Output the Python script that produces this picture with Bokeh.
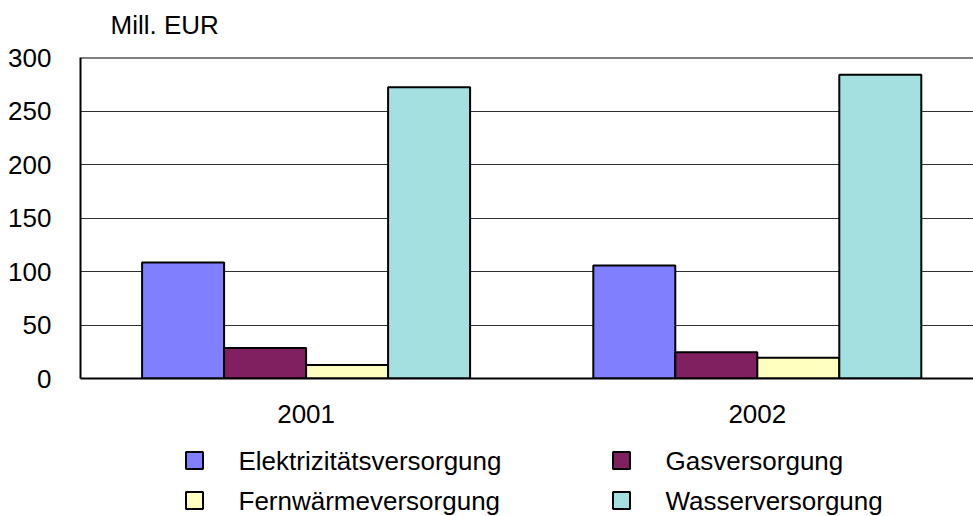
from bokeh.plotting import figure
from bokeh.layouts import column
from bokeh.models import Range1d, FixedTicker, Span
from bokeh.core.properties import value
from bokeh.embed import file_html
from bokeh.resources import INLINE

years = ["2001", "2002"]
series = ["Elektrizitätsversorgung", "Gasversorgung", "Fernwärmeversorgung", "Wasserversorgung"]
elektrizitaet = [108.3, 105.6]
gas = [28.6, 24.5]
fernwaerme = [12.7, 19.3]
wasser = [272.3, 283.9]
colors = ["#8080FF", "#802060", "#FFFFC0", "#A4E0E0"]
y_ticks = [0, 50, 100, 150, 200, 250, 300]
unit_label = "Mill. EUR"

FONT = "Liberation Sans"
FS = "26px"

W = 973
LEFT = 80
TOP_H = 40
MAIN_H = 400
LEG_H = 76
MAIN_TOP = 17


def strip(h):
    f = figure(width=W, height=h, output_backend="svg", toolbar_location=None,
               x_range=Range1d(LEFT, W), y_range=Range1d(0, h),
               min_border_left=LEFT, min_border_right=0, min_border_top=0, min_border_bottom=0)
    f.axis.visible = False
    f.grid.visible = False
    f.outline_line_color = None
    f.title = None
    return f


# unit label strip (pixel coordinates, y upward)
tf = strip(TOP_H)
tf.text(x=[110], y=[TOP_H - 24], text=[unit_label], text_font=value(FONT),
        text_font_size=FS, text_color="black", text_baseline="middle", text_align="left")

p = figure(width=W, height=MAIN_H, output_backend="svg", toolbar_location=None,
           x_range=Range1d(0, (W - LEFT) / 451.2), y_range=Range1d(0, 300),
           min_border_left=LEFT, min_border_right=0, min_border_top=MAIN_TOP,
           min_border_bottom=MAIN_H - MAIN_TOP - 321)
p.title = None
p.outline_line_color = None
p.background_fill_color = "white"
p.border_fill_color = "white"

bar_w = 82 / 451.2
offsets = [-1.5 * bar_w, -0.5 * bar_w, 0.5 * bar_w, 1.5 * bar_w]
all_vals = [elektrizitaet, gas, fernwaerme, wasser]
for vals, off, col in zip(all_vals, offsets, colors):
    xs = [i + 0.5 + off for i in range(len(years))]
    p.vbar(x=xs, top=vals, width=bar_w, bottom=0, fill_color=col,
           line_color="black", line_width=2)

p.xaxis.ticker = FixedTicker(ticks=[i + 0.5 for i in range(len(years))])
p.xaxis.major_label_overrides = {i + 0.5: y for i, y in enumerate(years)}
p.yaxis.ticker = FixedTicker(ticks=y_ticks)
for ax in (p.xaxis, p.yaxis):
    ax.axis_line_color = "black"
    ax.axis_line_width = 2
    ax.major_tick_line_color = None
    ax.minor_tick_line_color = None
    ax.major_label_text_font = FONT
    ax.major_label_text_font_size = FS
    ax.major_label_text_color = "black"
p.yaxis.major_label_standoff = 23
p.xaxis.major_label_standoff = 20
p.xgrid.grid_line_color = None
p.ygrid.grid_line_color = "#303030"
p.ygrid.grid_line_width = 1
p.add_layout(Span(location=300, dimension="width", line_color="black", line_width=2))

# legend strip (pixel coordinates, y upward)
lf = strip(LEG_H)
col_x = [194, 621]
row_y = [LEG_H - 20, LEG_H - 60]
mx, my, lab, cols = [], [], [], []
for k, (name, c) in enumerate(zip(series, colors)):
    mx.append(col_x[k % 2])
    my.append(row_y[k // 2])
    lab.append(name)
    cols.append(c)
lf.scatter(x=mx, y=my, marker="square", size=17, fill_color=cols,
           line_color="black", line_width=2)
lf.text(x=[v + 44 for v in mx], y=my, text=lab, text_font=value(FONT),
        text_font_size=FS, text_color="black", text_baseline="middle", text_align="left")

layout = column(tf, p, lf, spacing=0)
open("out.html", "w").write(file_html(layout, INLINE))
